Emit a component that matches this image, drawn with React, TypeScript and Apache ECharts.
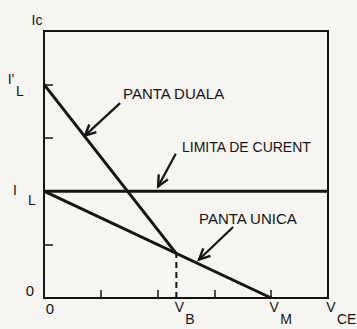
import React, { useEffect, useRef } from "react";
import * as echarts from "echarts";

// ---- data (in chart units) ----
const X_MAX = 5;
const Y_MAX = 5;
const V_B = 2.33;
const V_M = 4;
const I_L = 2;
const I_L_PRIME = 4;
const Y_AT_VB = 0.83;

const dualLine = [[0, I_L_PRIME], [V_B, Y_AT_VB]];
const singleLine = [[0, I_L], [V_M, 0]];
const limitLine = [[0, I_L], [X_MAX, I_L]];
const vbDashed = [[V_B, 0], [V_B, Y_AT_VB]];
// arrows: [tailX, tailY, headX, headY]
const arrows = [
  [1.34, 3.65, 0.72, 3.04],
  [2.32, 2.7, 2.01, 2.09],
  [3.33, 1.33, 2.73, 0.72],
];
const xLabels = [
  { value: 0, main: "0", sub: "" },
  { value: V_B, main: "V", sub: "B" },
  { value: V_M, main: "V", sub: "M" },
  { value: X_MAX, main: "V", sub: "CE" },
];
const yLabels = [
  { value: 0, main: "0", sub: "" },
  { value: I_L, main: "I", sub: "L" },
  { value: I_L_PRIME, main: "I'", sub: "L" },
];
const annotations = ["PANTA DUALA", "LIMITA DE CURENT", "PANTA UNICA"];

const INK = "#141414";
const FONT = "Liberation Sans, Arial, sans-serif";

export default function App() {
  const ref = useRef<HTMLDivElement>(null);
  useEffect(() => {
    document.body.style.margin = "0";
    const chart = echarts.init(ref.current!, null, { renderer: "svg" });
    const option: any = {
      animation: false,
      backgroundColor: "#f6f5f1",
      grid: {
        left: 44,
        top: 31,
        right: 29,
        bottom: 31,
        show: true,
        borderColor: INK,
        borderWidth: 2,
      },
      xAxis: {
        type: "value",
        min: 0,
        max: X_MAX,
        interval: 1,
        axisLine: { show: true, lineStyle: { color: INK, width: 2 } },
        axisTick: { show: true, inside: true, length: 8, lineStyle: { color: INK, width: 1.5 } },
        axisLabel: { show: false },
        splitLine: { show: false },
      },
      yAxis: {
        type: "value",
        min: 0,
        max: Y_MAX,
        interval: 1,
        axisLine: { show: true, lineStyle: { color: INK, width: 2 } },
        axisTick: { show: true, inside: true, length: 9, lineStyle: { color: INK, width: 1.5 } },
        axisLabel: { show: false },
        splitLine: { show: false },
      },
      series: [
        { type: "line", data: dualLine, showSymbol: false, lineStyle: { color: INK, width: 3 } },
        { type: "line", data: singleLine, showSymbol: false, lineStyle: { color: INK, width: 3 } },
        { type: "line", data: limitLine, showSymbol: false, lineStyle: { color: INK, width: 3 } },
        {
          type: "line",
          data: vbDashed,
          showSymbol: false,
          lineStyle: { color: INK, width: 2, type: [6, 4] },
        },
        {
          type: "custom",
          data: arrows,
          encode: { x: [0, 2], y: [1, 3] },
          renderItem: (params: any, api: any) => {
            const p1 = api.coord([api.value(0), api.value(1)]);
            const p2 = api.coord([api.value(2), api.value(3)]);
            const ang = Math.atan2(p1[1] - p2[1], p1[0] - p2[0]);
            const L = 12;
            const a = 0.45;
            const h1 = [p2[0] + L * Math.cos(ang + a), p2[1] + L * Math.sin(ang + a)];
            const h2 = [p2[0] + L * Math.cos(ang - a), p2[1] + L * Math.sin(ang - a)];
            return {
              type: "group",
              children: [
                {
                  type: "line",
                  shape: { x1: p1[0], y1: p1[1], x2: p2[0], y2: p2[1] },
                  style: { stroke: INK, lineWidth: 2.2 },
                },
                {
                  type: "polyline",
                  shape: { points: [h1, p2, h2] },
                  style: { stroke: INK, lineWidth: 2.4, fill: null },
                },
              ],
            };
          },
        },
      ],
    };
    chart.setOption(option);

    const graphics: any[] = [];
    const txt = (x: number, y: number, text: string, size: number, align = "center") => ({
      type: "text",
      x,
      y,
      style: {
        text,
        fill: INK,
        font: `${size}px ${FONT}`,
        textAlign: align,
        textVerticalAlign: "middle",
      },
    });
    xLabels.forEach((l) => {
      const p = chart.convertToPixel({ gridIndex: 0 }, [l.value, 0]) as number[];
      if (l.sub) {
        graphics.push(txt(p[0] + 3, p[1] + 9, l.main, 14));
        graphics.push(txt(p[0] + 9, p[1] + 21, l.sub, 14, "left"));
      } else {
        graphics.push(txt(p[0] + 6, p[1] + 10, l.main, 15));
      }
    });
    yLabels.forEach((l) => {
      const p = chart.convertToPixel({ gridIndex: 0 }, [0, l.value]) as number[];
      if (l.value === 0) {
        graphics.push(txt(p[0] - 14, p[1] - 8, l.main, 15));
      } else if (l.main === "I'") {
        graphics.push(txt(p[0] - 33, p[1] - 5, l.main, 14));
        graphics.push(txt(p[0] - 24, p[1] + 7, l.sub, 14));
      } else {
        graphics.push(txt(p[0] - 29, p[1] - 1, l.main, 14));
        graphics.push(txt(p[0] - 12, p[1] + 9, l.sub, 14));
      }
    });
    graphics.push(txt(37, 20, "Ic", 14));
    graphics.push(txt(123, 93, annotations[0], 15, "left"));
    graphics.push(txt(182, 147, annotations[1], 14, "left"));
    graphics.push(txt(199, 218, annotations[2], 15, "left"));
    chart.setOption({ graphic: graphics });

    return () => chart.dispose();
  }, []);
  return <div ref={ref} style={{ width: 357, height: 329 }} />;
}
